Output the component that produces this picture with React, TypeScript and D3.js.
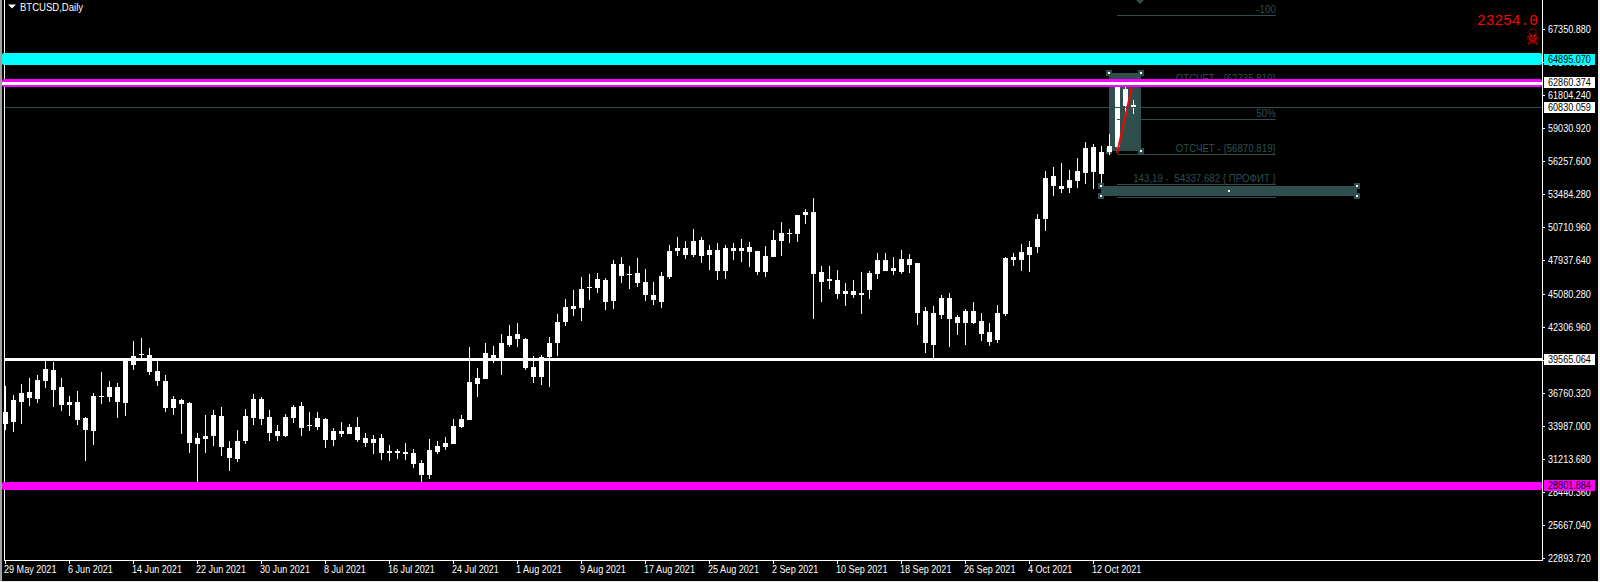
import React from "react";
import * as d3 from "d3";

const highs = [
37326,36570,37494,37998,38250,39510,39342,37998,36486,36906,
34722,36738,38502,37746,37578,39566,41106,41358,40518,39510,
38250,36486,36234,35982,33378,34890,35310,35562,32706,33630,
35394,36654,36402,35310,34050,34974,35730,35982,35142,35142,
34638,33798,34302,34134,34722,33378,33210,33294,32370,32034,
32538,32034,31110,32874,32706,33042,34554,34890,40602,38838,
40939,40687,41695,42451,42619,41359,39847,39931,41443,43375,
44635,45395,46487,46739,46823,46403,47915,48167,47411,48083,
47159,46067,46907,49175,49847,49511,50519,49847,49175,49343,
49175,49343,49679,49427,48671,49091,50435,51107,50519,51695,
52199,53123,47411,47411,47075,45983,46235,46907,46991,48503,
48503,48167,48755,48419,47663,43967,44051,44975,45143,43295,
43799,44387,43463,42623,44135,48167,48503,49259,49511,51779,
55393,55729,56065,55477,56485,57829,57661,57493,58504,63040,
62760,61360];
const bodyTops = [
35142,36150,36738,36822,37830,38754,38670,37242,35982,35982,
34638,36486,36486,37242,37242,39566,39846,40014,39930,38586,
37746,36234,36150,35898,32958,33126,34890,34806,32118,32706,
34806,36234,36234,34722,33546,34722,35562,35646,34050,34638,
34554,33546,33546,33882,33882,32958,32874,32958,31866,31866,
31782,31698,30858,31950,32286,32538,33966,34554,37662,37998,
40099,39931,40939,41527,41695,41275,38923,39763,40939,42703,
43963,44051,45479,45647,46319,46235,47579,47579,46739,46823,
46067,44975,46571,48671,48923,48923,49511,49595,48755,48755,
48923,48923,48923,49007,48671,48251,49595,50183,50183,51695,
51947,51947,46907,46319,46235,45311,45311,45143,46823,47915,
47915,47243,47999,47999,47663,43631,43463,44723,44723,43127,
43631,43631,42791,41867,43463,48083,48167,48587,49007,51359,
54805,54973,54133,54637,55393,57325,57409,56989,57496,62620,
62284,60940];
const bodyBottoms = [
34134,34302,35982,36318,36234,37746,36990,35730,35730,34470,
33630,33546,36402,36402,35982,35898,39090,39930,38502,37746,
35478,35478,35814,32538,32454,32874,33126,32202,31278,31194,
32706,34638,34554,33378,33126,33126,34638,33798,33966,33882,
32790,32790,33294,33294,32790,32538,32538,31698,31698,31698,
31614,30774,29850,29850,31782,32202,32454,33882,34470,37494,
37915,39595,39595,40771,41275,38839,38083,38083,39763,40939,
42703,43799,43883,45563,45563,44387,44471,46571,46655,45983,
44975,44555,44387,46487,48671,48335,48335,48251,48335,46991,
46991,48671,48671,48587,46907,46907,48167,49511,50099,50099,
51695,46739,46067,46151,45059,45059,44975,44975,45395,46739,
46991,46991,46907,47495,43463,40943,40775,43295,42959,42623,
42623,42623,41699,41027,41195,43379,47915,47915,48335,49007,
51359,54133,53881,53965,54553,55225,55309,55141,56992,57412,
60856,60688];
const lows = [
33630,33490,34134,35646,35898,37158,35562,35226,34806,34050,
31026,32370,35814,35982,34638,34806,38670,39650,38250,37326,
35142,34890,33294,31698,29262,31698,32286,31446,30186,30942,
32454,34050,34050,32706,32706,33042,34218,33126,33546,33630,
32118,32286,33042,33294,32622,32202,31614,31110,31026,31194,
31110,30438,29262,29514,31614,31950,32454,33798,34470,36402,
37915,39287,38251,40603,40603,38671,37579,37411,37243,39847,
42367,43211,42791,44555,45143,43715,43799,45983,45479,45647,
44471,44135,43883,46319,48251,47999,48167,47663,47075,46235,
46319,47915,47747,47327,46655,46487,48167,48251,49343,49427,
50939,42959,44387,45479,44639,44051,44723,43379,44639,46319,
46991,46655,46739,46823,42455,40103,39683,42959,40607,41615,
40775,42539,41111,40691,40943,43211,47411,46991,46907,48503,
50351,53293,53545,53545,53965,54301,53881,53937,56740,56870,
60100,60184];

const priceTicks = [67350.88,64577.56,61804.24,59030.92,56257.6,53484.28,50710.96,47937.64,45080.28,42306.96,39533.64,36760.32,33987,31213.68,28440.36,25667.04,22893.72];
const dateLabels = ["29 May 2021","6 Jun 2021","14 Jun 2021","22 Jun 2021","30 Jun 2021","8 Jul 2021","16 Jul 2021","24 Jul 2021","1 Aug 2021","9 Aug 2021","17 Aug 2021","25 Aug 2021","2 Sep 2021","10 Sep 2021","18 Sep 2021","26 Sep 2021","4 Oct 2021","12 Oct 2021"];

const x = d3.scaleLinear().domain([0, 141]).range([5, 1133]);
const y = d3.scaleLinear().domain([22893.72, 67350.88]).range([557.7, 28.7]);

const SLATE = "#2f4f4f";
const FONT = "'Liberation Sans',sans-serif";

const fibRect = { i0: 138, i1: 142, top: 63660, bottom: 57100 };
const profitRect = { i0: 137, i1: 169, top: 54131, bottom: 53316 };
const fibLines = [
  { price: 68520, label: "-100" },
  { price: 62735.819, label: "ОТСЧЕТ - {62735.819}" },
  { price: 59803, label: "50%" },
  { price: 56800, label: "ОТСЧЕТ - {56870.819}" },
  { price: 54337.682, label: "143,19 -  54337.682 { ПРОФИТ }" },
  { price: 53190, label: "" },
];
const trend = [
  { i: 139, price: 56870.819 },
  { i: 141, price: 62860 },
];

function Narrow({ px, py, text, fill, k = 0.825, size = 11, anchor = "start" }: any) {
  return (
    <text transform={`translate(${px},${py}) scale(${k},1)`} fontSize={size} fontFamily={FONT} fill={fill} textAnchor={anchor} style={{ whiteSpace: "pre" }}>{text}</text>
  );
}

function Handle({ cx, cy }: { cx: number; cy: number }) {
  return (
    <g>
      <rect x={cx - 3} y={cy - 3} width={6} height={6} fill={SLATE} />
      <rect x={cx - 1} y={cy - 1} width={2} height={2} fill="#fff" />
    </g>
  );
}

function Label({ cy, text, bg }: { cy: number; text: string; bg: string }) {
  return (
    <g>
      <rect x={1544} y={cy - 5} width={51} height={11} fill={bg} />
      <Narrow px={1548} py={cy + 4} text={text} fill="#000" />
    </g>
  );
}

export default function App() {
  const r = (v: number) => Math.round(y(v));
  const rx0 = x(fibRect.i0), rx1 = x(fibRect.i1), ry0 = r(fibRect.top), ry1 = r(fibRect.bottom);
  const px0 = x(profitRect.i0), px1 = x(profitRect.i1), py0 = r(profitRect.top), py1 = r(profitRect.bottom);
  const lineX0 = x(139), lineX1 = x(158.85);
  return (
    <svg width={1600} height={582} style={{ position: "absolute", left: 0, top: 0, display: "block", background: "#000" }}>
      <rect x={0} y={0} width={2} height={582} fill="#a0a0a0" />
      <rect x={1598} y={0} width={2} height={582} fill="#f0f0f0" />
      <rect x={0} y={581} width={1600} height={1} fill="#f0f0f0" />
      {/* frame */}
      <rect x={4} y={0} width={1} height={561} fill="#fff" />
      <rect x={1542} y={0} width={1} height={561} fill="#fff" />
      <rect x={4} y={560} width={1539} height={1} fill="#fff" />

      {/* price axis */}
      {priceTicks.map((t) => (
        <g key={t}>
          <rect x={1543} y={r(t)} width={2} height={1} fill="#fff" />
          <Narrow px={1548} py={r(t) + 4} text={t.toFixed(3)} fill="#fff" />
        </g>
      ))}
      {/* time axis */}
      {dateLabels.map((d, k) => (
        <g key={d}>
          <rect x={x(k * 8)} y={561} width={1} height={3} fill="#fff" />
          <Narrow px={x(k * 8) - 1} py={573} text={d} fill="#fff" />
        </g>
      ))}

      {/* title */}
      <path d="M8 4.5h8l-4 4z" fill="#fff" />
      <Narrow px={20} py={11} text="BTCUSD,Daily" fill="#fff" k={0.91} size={10.5} />

      {/* object rectangles */}
      <rect x={rx0} y={ry0} width={rx1 - rx0} height={ry1 - ry0} fill={SLATE} />
      <rect x={px0} y={py0} width={px1 - px0} height={py1 - py0} fill={SLATE} />
      <Handle cx={rx0} cy={ry1} />

      {/* candles */}
      {highs.map((h, i) => (
        <g key={i}>
          <rect x={x(i)} y={r(h)} width={1} height={Math.max(1, r(lows[i]) - r(h))} fill="#fff" />
          <rect x={x(i) - 2} y={r(bodyTops[i])} width={5} height={Math.max(1, r(bodyBottoms[i]) - r(bodyTops[i]))} fill="#fff" />
        </g>
      ))}

      {/* fibo lines */}
      {fibLines.map((l) => (
        <g key={l.price}>
          <rect x={lineX0} y={r(l.price)} width={lineX1 - lineX0} height={1} fill={SLATE} />
          {l.label && (
            <Narrow px={lineX1} py={r(l.price) - 2} text={l.label} fill={SLATE} k={0.925} size={10.5} anchor="end" />
          )}
        </g>
      ))}
      <path d={`M${x(142) - 5} 0L${x(142) + 3} 0L${x(142) - 1} 4Z`} fill={SLATE} />

      {/* trend line */}
      <line x1={x(trend[0].i)} y1={y(trend[0].price)} x2={x(trend[1].i)} y2={y(trend[1].price)} stroke="#f00" strokeWidth={2} />

      {/* handles */}
      <Handle cx={rx0} cy={ry0} />
      <Handle cx={rx1} cy={ry0} />
      <Handle cx={rx1} cy={ry1} />
      <Handle cx={px0} cy={py0} />
      <Handle cx={px0} cy={py1} />
      <Handle cx={px1} cy={py0} />
      <Handle cx={px1} cy={py1} />
      <rect x={(px0 + px1) / 2 - 1} y={(py0 + py1) / 2 - 1} width={2} height={2} fill="#fff" />

      {/* current price */}
      <rect x={5} y={r(60830.059) + 1} width={1537} height={1} fill={SLATE} />

      {/* levels */}
      <rect x={2} y={53} width={1540} height={12} rx={2} fill="#0ff" />
      <rect x={2} y={79} width={1540} height={8} rx={2} fill="#f0f" />
      <rect x={2} y={82} width={1540} height={3} fill="#fff" />
      <rect x={5} y={358} width={1537} height={3} fill="#fff" />
      <rect x={2} y={482} width={1540} height={8} rx={2} fill="#f0f" />

      <Label cy={59} text="64895.070" bg="#0ff" />
      <Label cy={82} text="62860.374" bg="#fff" />
      <Label cy={107} text="60830.059" bg="#fff" />
      <Label cy={359} text="39565.064" bg="#fff" />
      <Label cy={485} text="28801.884" bg="#f0f" />

      {/* red alert */}
      <text x={1477} y={25} fontSize={14.5} fontFamily="'Liberation Mono',monospace" fill="#f00">23254.0</text>
      <text transform="translate(1532.5,45) scale(0.8,1.25)" textAnchor="middle" fontSize={18} fontFamily="'DejaVu Sans',sans-serif" fill="#f00">☠</text>
    </svg>
  );
}
